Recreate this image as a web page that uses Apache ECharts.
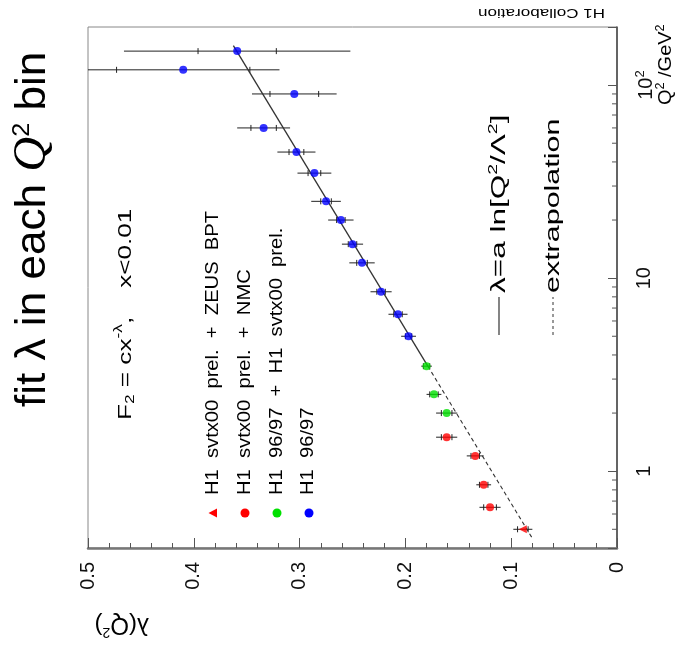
<!DOCTYPE html>
<html>
<head>
<meta charset="utf-8">
<script src="https://cdn.jsdelivr.net/npm/echarts@6/dist/echarts.min.js"></script>
<style>
  html, body { margin: 0; padding: 0; background: #fff; }
  #chart { width: 684px; height: 659px; }
</style>
</head>
<body>
<div id="chart"></div>
<script>
// lambda(Q^2) from fits F2 = c x^-lambda, x < 0.01, one fit per Q^2 bin.
// Each point: Q^2 bin, lambda, total error, statistical error.

// H1 96/97
const q2Blue   = [150, 120, 90, 60, 45, 35, 25, 20, 15, 12, 8.5, 6.5, 5];
const lamBlue  = [0.359, 0.410, 0.305, 0.334, 0.303, 0.286, 0.275, 0.261, 0.250, 0.241, 0.223, 0.207, 0.197];
const errBlue  = [0.107, 0.091, 0.040, 0.025, 0.018, 0.016, 0.014, 0.012, 0.010, 0.012, 0.010, 0.009, 0.007];
const statBlue = [0.037, 0.063, 0.023, 0.012, 0.007, 0.006, 0.005, 0.004, 0.004, 0.005, 0.004, 0.004, 0.003];

// H1 96/97 + H1 svtx00 prel.
const q2Green   = [3.5, 2.5, 2.0];
const lamGreen  = [0.180, 0.173, 0.161];
const errGreen  = [0.005, 0.007, 0.010];
const statGreen = [0.003, 0.004, 0.005];

// H1 svtx00 prel. + NMC
const q2Red   = [1.5, 1.2, 0.85, 0.65];
const lamRed  = [0.161, 0.134, 0.126, 0.120];
const errRed  = [0.010, 0.008, 0.007, 0.010];
const statRed = [0.005, 0.004, 0.004, 0.006];

// H1 svtx00 prel. + ZEUS BPT
const q2Tri   = [0.5];
const lamTri  = [0.089];
const errTri  = [0.009];
const statTri = [0.005];

// lambda = a ln[Q^2/Lambda^2]: fitted range and its extrapolation (end points)
const fitQ2     = [160, 3.5];
const fitLam    = [0.3626, 0.1788];
const extrapQ2  = [3.5, 0.45];
const extrapLam = [0.1788, 0.0801];

// axes
const lamMin = 0, lamMax = 0.5, lamStep = 0.1;
const q2Min = 0.4, q2Max = 200;
const q2TickText = ['1', '10', '10{s|2}'];
const q2MinorTicks = [0.5, 0.6, 0.7, 0.8, 0.9, 2, 3, 4, 5, 6, 7, 8, 9,
                      20, 30, 40, 50, 60, 70, 80, 90];

const FONT = 'Liberation Sans';

function points(q2, lam) { return q2.map((q, i) => [lam[i], q]); }
function bars(q2, lam, err, stat) { return q2.map((q, i) => [lam[i], q, err[i], stat[i]]); }

const errorData = [].concat(
  bars(q2Blue, lamBlue, errBlue, statBlue),
  bars(q2Green, lamGreen, errGreen, statGreen),
  bars(q2Red, lamRed, errRed, statRed),
  bars(q2Tri, lamTri, errTri, statTri)
);

function renderErrorBar(params, api) {
  const lam = api.value(0), q2 = api.value(1), e = api.value(2), s = api.value(3);
  const a = api.coord([lam - e, q2]);
  const b = api.coord([lam + e, q2]);
  const c = api.coord([lam - s, q2]);
  const d = api.coord([lam + s, q2]);
  const st = { stroke: '#222', lineWidth: 1 };
  return {
    type: 'group',
    children: [
      { type: 'line', shape: { x1: a[0], y1: a[1], x2: b[0], y2: b[1] }, style: st },
      { type: 'line', shape: { x1: c[0], y1: c[1] - 3, x2: c[0], y2: c[1] + 3 }, style: st },
      { type: 'line', shape: { x1: d[0], y1: d[1] - 3, x2: d[0], y2: d[1] + 3 }, style: st }
    ]
  };
}

function renderMinorTick(params, api) {
  const p = api.coord([lamMin, api.value(1)]);
  return {
    type: 'line',
    shape: { x1: p[0], y1: p[1], x2: p[0] - 5, y2: p[1] },
    style: { stroke: '#555', lineWidth: 1 }
  };
}

// rotated text helper: rot = PI/2 reads bottom-to-top, PI is upside down
function rtext(x, y, text, size, stretch, rot, extra) {
  return {
    type: 'text', x: x, y: y, rotation: rot, scaleX: stretch, scaleY: 1,
    style: Object.assign({
      text: text, fill: '#000', fontFamily: FONT, fontSize: size,
      align: 'left', verticalAlign: 'middle'
    }, extra || {})
  };
}

const R90 = Math.PI / 2;

const chart = echarts.init(document.getElementById('chart'), null, { renderer: 'canvas' });

chart.setOption({
  animation: false,
  backgroundColor: '#fff',
  textStyle: { fontFamily: FONT },
  grid: {
    left: 88, right: 67, top: 27, bottom: 111,
    show: true, borderColor: '#888', borderWidth: 1,
    outerBoundsMode: 'none'
  },
  xAxis: {
    type: 'value', min: lamMin, max: lamMax, interval: lamStep,
    inverse: true, position: 'bottom',
    axisLine: { show: true, lineStyle: { color: '#777', width: 2.5 } },
    axisTick: { show: true, inside: true, length: 10, lineStyle: { color: '#555' } },
    minorTick: { show: true, splitNumber: 5, length: 5, lineStyle: { color: '#555' } },
    splitLine: { show: false },
    minorSplitLine: { show: false },
    axisLabel: { rotate: 90, margin: 14, fontSize: 20, color: '#111', fontFamily: FONT }
  },
  yAxis: {
    type: 'log', logBase: 10, min: q2Min, max: q2Max, position: 'right',
    axisLine: { show: true, lineStyle: { color: '#444', width: 1.5 } },
    axisTick: { show: true, inside: true, length: 9, lineStyle: { color: '#555' } },
    splitLine: { show: false },
    axisLabel: {
      rotate: 90, margin: 17, fontSize: 20, color: '#111', fontFamily: FONT,
      formatter: function (v) {
        const k = Math.round(Math.log10(v));
        if (Math.abs(v - Math.pow(10, k)) > 1e-6 * v) return '';
        return q2TickText[k] || '';
      },
      rich: { s: { fontSize: 13, fontFamily: FONT, color: '#111', padding: [0, 0, 12, 0] } }
    }
  },
  series: [
    {
      type: 'custom', name: 'errors', renderItem: renderErrorBar,
      data: errorData, encode: { x: 0, y: 1 }, clip: true, z: 2, silent: true
    },
    {
      type: 'custom', name: 'minor ticks', renderItem: renderMinorTick,
      data: q2MinorTicks.map(v => [lamMin, v]), encode: { x: 0, y: 1 }, z: 3, silent: true
    },
    {
      type: 'line', name: 'fit', data: points(fitQ2, fitLam), symbol: 'none',
      lineStyle: { color: '#333', width: 1.3 }, z: 3
    },
    {
      type: 'line', name: 'extrapolation', data: points(extrapQ2, extrapLam), symbol: 'none',
      lineStyle: { color: '#333', width: 1.1, type: [4, 3] }, z: 3
    },
    {
      type: 'scatter', name: 'H1 96/97', data: points(q2Blue, lamBlue),
      symbol: 'circle', symbolSize: 8, itemStyle: { color: '#0000ff' }, z: 4
    },
    {
      type: 'scatter', name: 'H1 96/97 + H1 svtx00 prel.', data: points(q2Green, lamGreen),
      symbol: 'circle', symbolSize: 8, itemStyle: { color: '#00e000' }, z: 4
    },
    {
      type: 'scatter', name: 'H1 svtx00 prel. + NMC', data: points(q2Red, lamRed),
      symbol: 'circle', symbolSize: 8, itemStyle: { color: '#ff0000' }, z: 4
    },
    {
      type: 'scatter', name: 'H1 svtx00 prel. + ZEUS BPT', data: points(q2Tri, lamTri),
      symbol: 'triangle', symbolSize: 8, symbolRotate: 90, itemStyle: { color: '#ff0000' }, z: 4
    }
  ],
  graphic: [
    // title
    rtext(33, 407, 'fit λ in each {q|Q}{s|2} bin', 42, 1.05, R90, {
      rich: {
        q: { fontFamily: 'Liberation Serif', fontStyle: 'italic', fontSize: 46 },
        s: { fontFamily: FONT, fontSize: 24, padding: [0, 0, 22, 0] }
      }
    }),
    // fit function
    rtext(126, 420, 'F{sb|2} = cx{sp|-λ},    x<0.01', 18, 1.45, R90, {
      rich: {
        sb: { fontFamily: FONT, fontSize: 12, padding: [10, 0, 0, 0] },
        sp: { fontFamily: FONT, fontSize: 12, padding: [0, 0, 14, 0] }
      }
    }),
    // legend of data sets
    { type: 'polygon', shape: { points: [[208.5, 513], [217, 508.5], [217, 517.5]] }, style: { fill: '#ff0000' } },
    { type: 'circle', shape: { cx: 245, cy: 513, r: 4.5 }, style: { fill: '#ff0000' } },
    { type: 'circle', shape: { cx: 277, cy: 513, r: 4.5 }, style: { fill: '#00e000' } },
    { type: 'circle', shape: { cx: 309, cy: 513, r: 4.5 }, style: { fill: '#0000ff' } },
    rtext(213, 495, 'H1  svtx00  prel.  +  ZEUS  BPT', 18, 1.12, R90),
    rtext(245, 495, 'H1  svtx00  prel.  +  NMC', 18, 1.12, R90),
    rtext(277, 495, 'H1  96/97  +  H1  svtx00  prel.', 18, 1.12, R90),
    rtext(308, 495, 'H1  96/97', 18, 1.12, R90),
    // legend of curves
    { type: 'line', shape: { x1: 499, y1: 335, x2: 499, y2: 297 }, style: { stroke: '#333', lineWidth: 1.2 } },
    { type: 'line', shape: { x1: 553, y1: 335, x2: 553, y2: 297 }, style: { stroke: '#333', lineWidth: 1, lineDash: [3, 3] } },
    rtext(499, 293, 'λ=a ln[Q{s|2}/Λ{s|2}]', 21, 1.5, R90, {
      rich: { s: { fontFamily: FONT, fontSize: 13, padding: [0, 0, 12, 0] } }
    }),
    rtext(553, 293, 'extrapolation', 21, 1.45, R90),
    // axis titles and caption
    rtext(666, 105, 'Q{s|2} /GeV{s|2}', 19, 1.05, R90, {
      rich: { s: { fontFamily: FONT, fontSize: 12, padding: [0, 0, 11, 0] } }
    }),
    rtext(149, 625, 'λ(Q{s|2})', 24, 1.0, Math.PI, {
      rich: { s: { fontFamily: FONT, fontSize: 14, padding: [0, 0, 13, 0] } }
    }),
    rtext(605, 12, 'H1 Collaboration', 12, 1.42, Math.PI)
  ]
});
</script>
</body>
</html>
